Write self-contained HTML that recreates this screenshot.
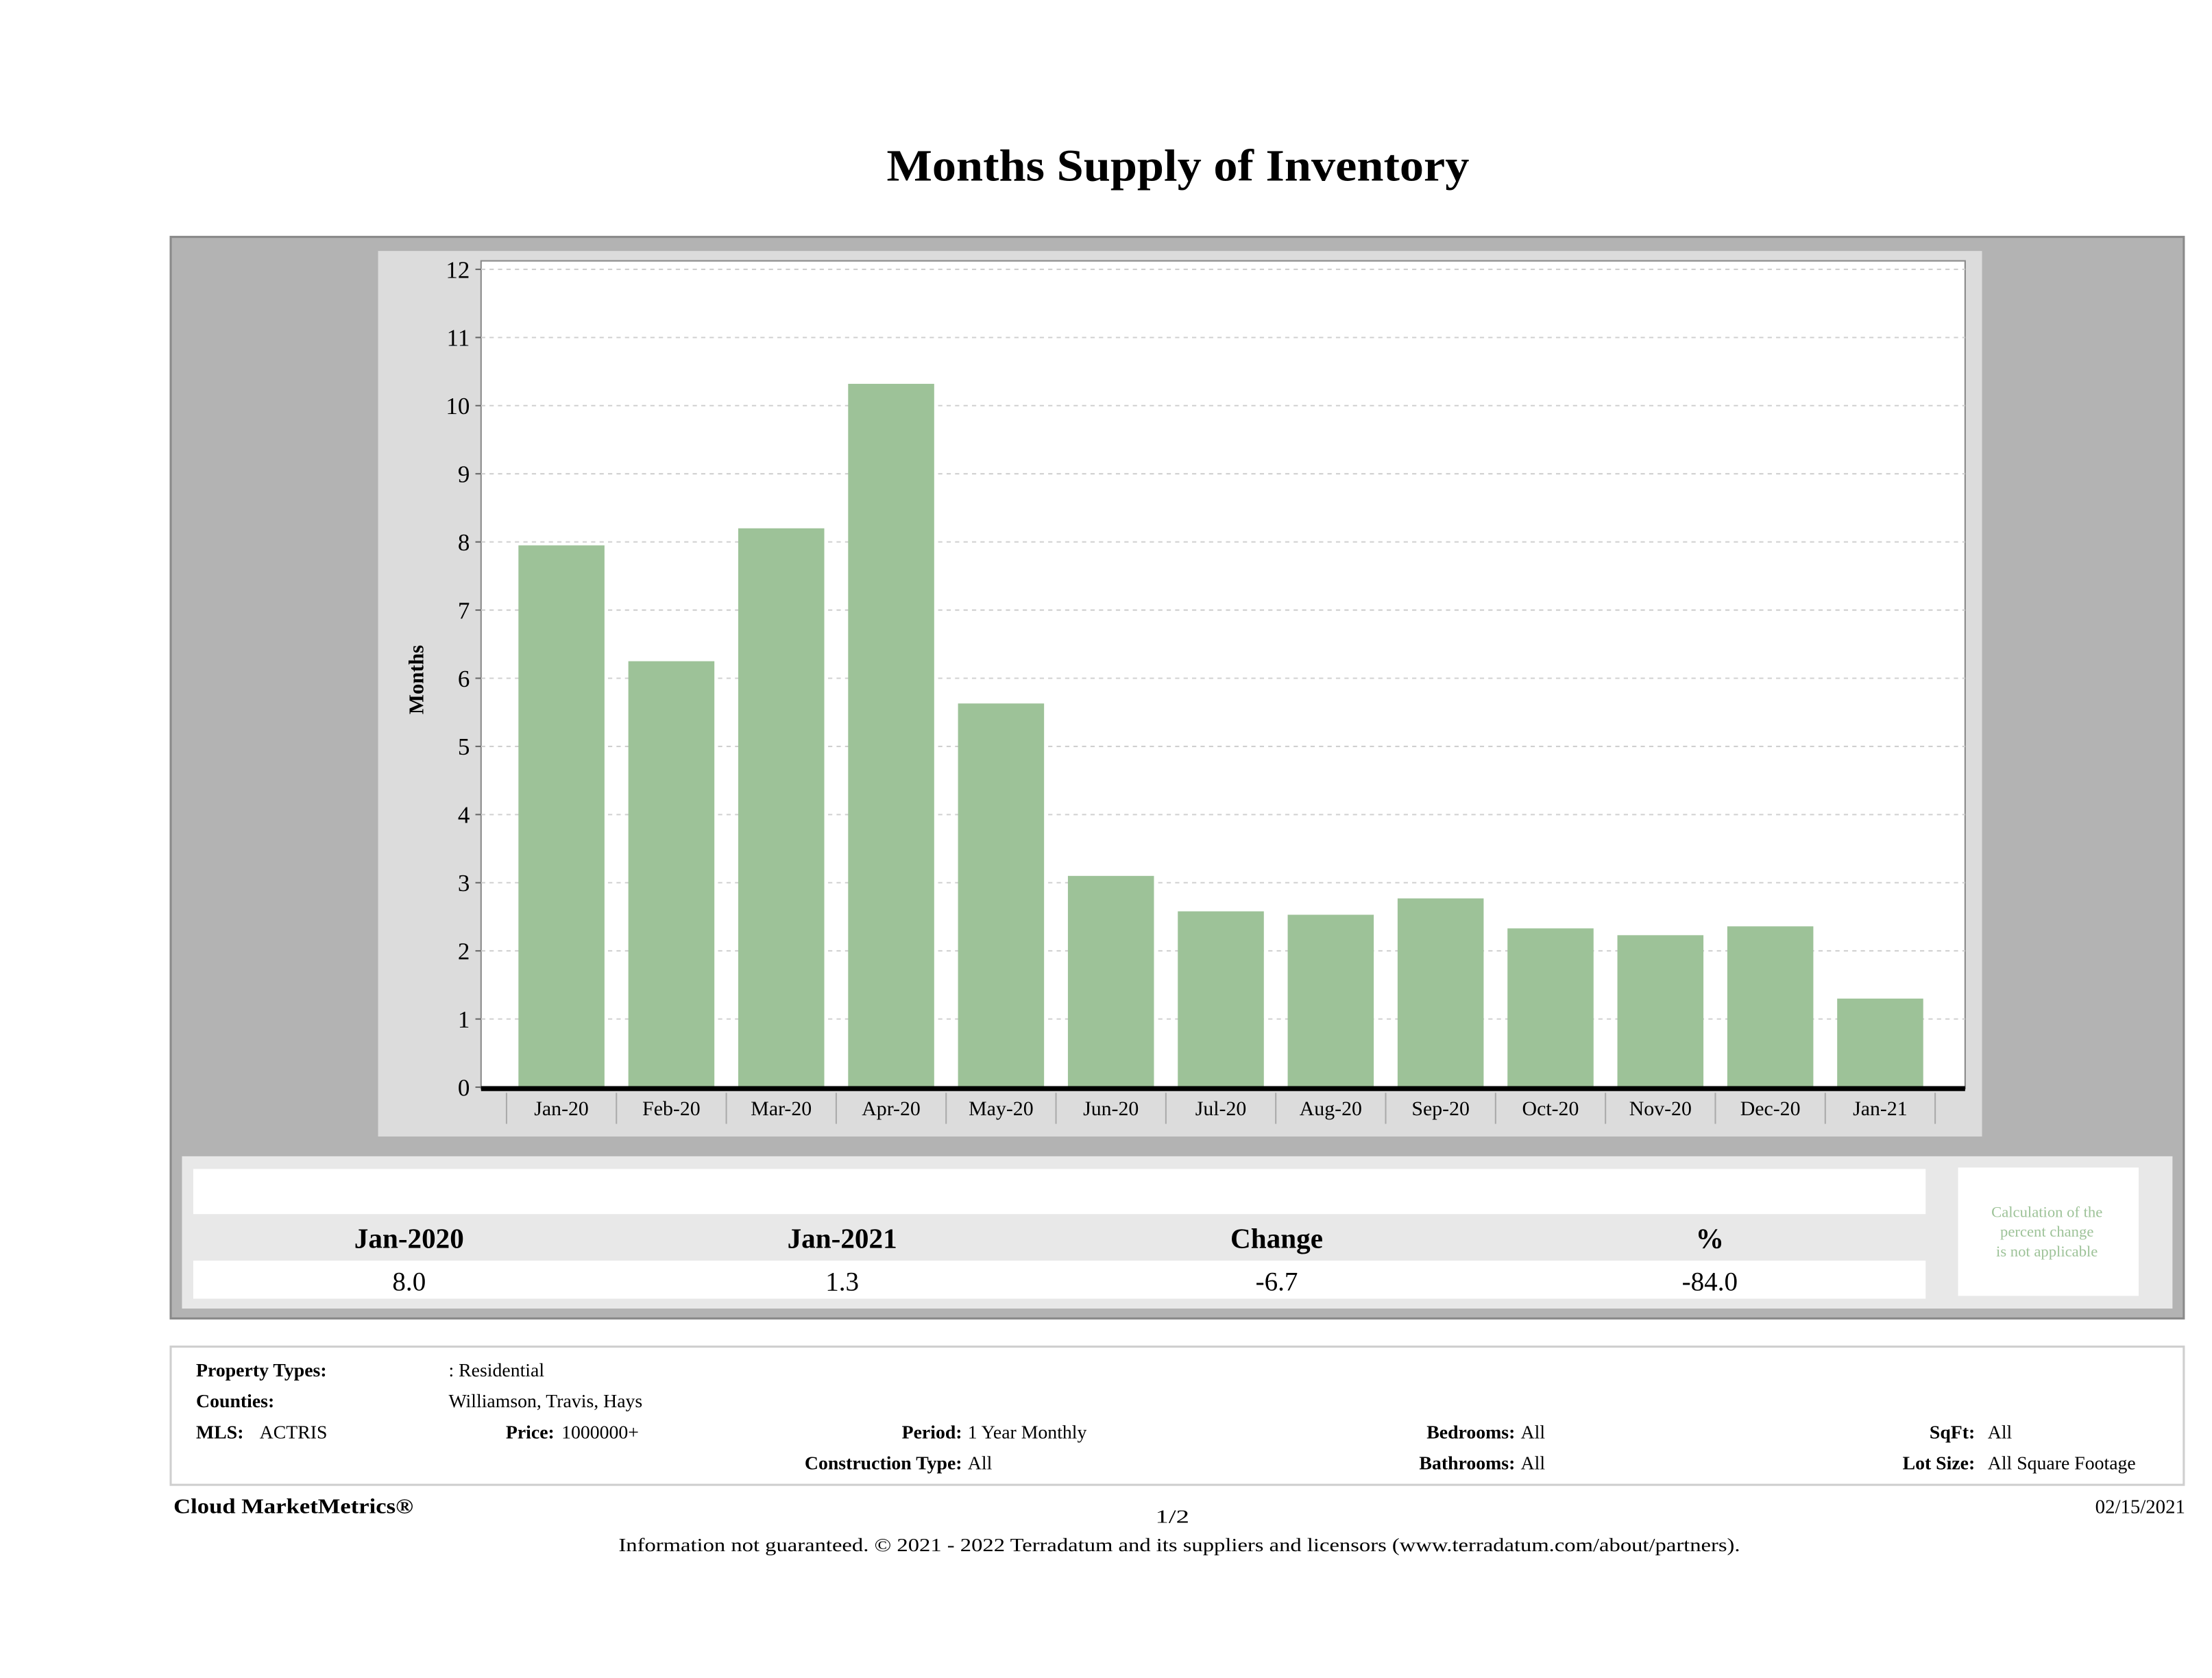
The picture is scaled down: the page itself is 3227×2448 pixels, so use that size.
<!DOCTYPE html>
<html><head><meta charset="utf-8">
<style>
html,body{margin:0;padding:0;background:#fff;}
svg{display:block;font-family:"Liberation Serif",serif;}
</style></head>
<body>
<svg id="page" width="3227" height="2448" viewBox="0 0 1568 1190" preserveAspectRatio="none" xmlns="http://www.w3.org/2000/svg">
<rect x="0" y="0" width="1568" height="1190" fill="#fff"/>
<text x="835" y="128" text-anchor="middle" font-size="32" font-weight="bold" textLength="413" lengthAdjust="spacingAndGlyphs">Months Supply of Inventory</text>
<rect x="121" y="168" width="1427" height="767" fill="#b3b3b3" stroke="#8a8a8a" stroke-width="1.5"/>
<rect x="268" y="178" width="1137" height="628" fill="#dcdcdc"/>
<rect x="341" y="185" width="1052" height="587" fill="#fff" stroke="#888" stroke-width="1"/>
<g id="grid"></g>
<g id="bars"></g>
<g id="axes"></g>
<text transform="translate(300,482) rotate(-90)" text-anchor="middle" font-size="15" font-weight="bold">Months</text>

<rect x="129" y="820" width="1411" height="108" fill="#e8e8e8"/>
<rect x="137" y="829" width="1228" height="32" fill="#fff"/>
<rect x="137" y="894" width="1228" height="27" fill="#fff"/>
<rect x="1388" y="828" width="128" height="91" fill="#fff"/>
<g font-size="20" font-weight="bold" text-anchor="middle">
<text x="290" y="885">Jan-2020</text>
<text x="597" y="885">Jan-2021</text>
<text x="905" y="885">Change</text>
<text x="1212" y="885">%</text>
</g>
<g font-size="19" text-anchor="middle">
<text x="290" y="915">8.0</text>
<text x="597" y="915">1.3</text>
<text x="905" y="915">-6.7</text>
<text x="1212" y="915">-84.0</text>
</g>
<g font-size="11" fill="#9dc298" text-anchor="middle">
<text x="1451" y="863">Calculation of the</text>
<text x="1451" y="877">percent change</text>
<text x="1451" y="891">is not applicable</text>
</g>

<rect x="121" y="955" width="1427" height="98" fill="#fff" stroke="#cfcfcf" stroke-width="1.5"/>
<g font-size="13.5">
<text x="139" y="976" font-weight="bold">Property Types:</text>
<text x="318" y="976">: Residential</text>
<text x="139" y="998" font-weight="bold">Counties:</text>
<text x="318" y="998">Williamson, Travis, Hays</text>
<text x="139" y="1020" font-weight="bold">MLS:</text>
<text x="184" y="1020">ACTRIS</text>
<text x="393" y="1020" text-anchor="end" font-weight="bold">Price:</text>
<text x="398" y="1020">1000000+</text>
<text x="682" y="1020" text-anchor="end" font-weight="bold">Period:</text>
<text x="686" y="1020">1 Year Monthly</text>
<text x="682" y="1042" text-anchor="end" font-weight="bold">Construction Type:</text>
<text x="686" y="1042">All</text>
<text x="1074" y="1020" text-anchor="end" font-weight="bold">Bedrooms:</text>
<text x="1078" y="1020">All</text>
<text x="1074" y="1042" text-anchor="end" font-weight="bold">Bathrooms:</text>
<text x="1078" y="1042">All</text>
<text x="1400" y="1020" text-anchor="end" font-weight="bold">SqFt:</text>
<text x="1409" y="1020">All</text>
<text x="1400" y="1042" text-anchor="end" font-weight="bold">Lot Size:</text>
<text x="1409" y="1042">All Square Footage</text>
</g>
<text x="123" y="1073" font-size="15" font-weight="bold" textLength="170" lengthAdjust="spacingAndGlyphs">Cloud MarketMetrics®</text>
<text x="831" y="1080" font-size="13.5" text-anchor="middle" textLength="24" lengthAdjust="spacingAndGlyphs">1/2</text>
<text x="1549" y="1073" font-size="14" text-anchor="end">02/15/2021</text>
<text x="836" y="1100" font-size="13.5" text-anchor="middle" textLength="795" lengthAdjust="spacingAndGlyphs">Information not guaranteed. © 2021 - 2022 Terradatum and its suppliers and licensors (www.terradatum.com/about/partners).</text>
</svg>
<script>
const categories = ["Jan-20","Feb-20","Mar-20","Apr-20","May-20","Jun-20","Jul-20","Aug-20","Sep-20","Oct-20","Nov-20","Dec-20","Jan-21"];
const monthsSupply = [7.95, 6.25, 8.2, 10.32, 5.63, 3.1, 2.58, 2.53, 2.77, 2.33, 2.23, 2.36, 1.3];
const yTicks = [0,1,2,3,4,5,6,7,8,9,10,11,12];

const NS = "http://www.w3.org/2000/svg";
const plotL = 341, plotR = 1393, y0 = 771, yMax = 12, yTop = 191;
const yScale = v => y0 - (v / yMax) * (y0 - yTop);
const step = 77.9, firstCenter = 398;
const xScale = i => firstCenter + i * step;
const barW = 61;
function mk(tag, attrs, parent){const e=document.createElementNS(NS,tag);for(const k in attrs)e.setAttribute(k,attrs[k]);parent.appendChild(e);return e;}
const grid=document.getElementById('grid'), bars=document.getElementById('bars'), axes=document.getElementById('axes');
yTicks.forEach(t=>{
  const y=yScale(t);
  if(t>0){const g=mk('line',{x1:plotL,x2:plotR,y1:y,y2:y,stroke:'#d0d0d0','stroke-dasharray':'3,3','stroke-width':1},grid);
  
  }
  mk('line',{x1:plotL-4,x2:plotL,y1:y,y2:y,stroke:'#666'},axes);
  const tx=mk('text',{x:plotL-8,y:y+6,'text-anchor':'end','font-size':17},axes);
  tx.textContent=t;
  
  
});
monthsSupply.forEach((v,i)=>{
  const cx=xScale(i), y=yScale(v);
  const r=mk('rect',{x:cx-barW/2,y:y,width:barW,height:y0-y,fill:'#9dc298'},bars);
  
  
  const tx=mk('text',{x:cx,y:791,'text-anchor':'middle','font-size':14.5},axes);
  tx.textContent=categories[i];
  
  
});
for(let i=0;i<=categories.length;i++){
  const x=xScale(i)-step/2;
  mk('line',{x1:x,x2:x,y1:775,y2:797,stroke:'#aaa','stroke-width':1},axes);
}
const ax=mk('line',{x1:plotL,x2:plotR,y1:772,y2:772,stroke:'#000','stroke-width':3.5},axes);


</script>
</body></html>
